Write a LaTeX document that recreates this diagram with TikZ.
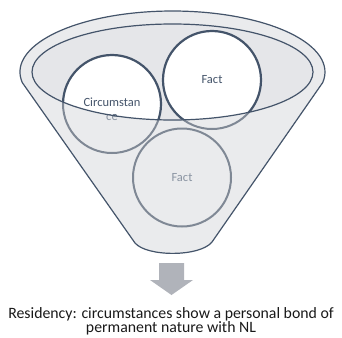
\documentclass[tikz,border=0pt]{standalone}
\usepackage{fontspec}
\setmainfont{Carlito}
\definecolor{navy}{HTML}{44546A}
\definecolor{graystroke}{HTML}{7F8895}
\definecolor{graytext}{HTML}{8A94A2}
\definecolor{funnelfill}{HTML}{EAEBED}
\definecolor{innerfill}{HTML}{E5E6E9}
\definecolor{arrowgray}{HTML}{B0B3BA}
\tikzset{
  funnelline/.style={draw=navy, line width=1.2pt},
  bubble/.style={circle, minimum size=98pt, inner sep=0pt, line width=2.2pt, draw=navy, fill=white, text=navy, font=\fontsize{12.5}{14.5}\selectfont, align=center},
  bubblegray/.style={circle, minimum size=98pt, inner sep=0pt, line width=2pt, draw=graystroke, text=graytext, font=\fontsize{12.5}{14.5}\selectfont, align=center},
  caption/.style={font=\fontsize{15.8}{14.5}\selectfont, align=center, text=black!90, inner sep=0pt}
}
\def\funnelpath{(22.3,82.6) arc[start angle=170, end angle=370, x radius=152.5, y radius=61] -- (212,242) .. controls (200,257) and (147,257) .. (135,243) -- cycle}
\begin{document}
\begin{tikzpicture}[x=1pt,y=-1pt]
\useasboundingbox (0,0) rectangle (342,337);
% funnel body
\path[fill=funnelfill] \funnelpath;
\path[fill=innerfill] (172.5,72) ellipse[x radius=140.5, y radius=48];
% circles
\node[bubble] (c1) at (112,104) {\vphantom{C}\\[-4pt]Circumstan\\ce};
\node[bubble] (c2) at (212,80) {Fact};
\node[bubble] (c3) at (182,177.5) {Fact};
% lower body overlay
\begin{scope}[even odd rule]
  \clip \funnelpath (172.5,72) ellipse[x radius=140.5, y radius=48];
  \path[fill=funnelfill] \funnelpath;
  \node[bubblegray] (g1) at (112,104) {\vphantom{C}\\[-4pt]Circumstan\\ce};
  \node[bubblegray] (g2) at (212,80) {Fact};
  \node[bubblegray] (g3) at (182,177.5) {Fact};
\end{scope}
% outlines
\path[funnelline] \funnelpath;
\path[funnelline] (172.5,72) ellipse[x radius=140.5, y radius=48];
% arrow
\path[fill=arrowgray] (159,263) -- (184,263) -- (184,280) -- (193,280) -- (171.5,295) -- (150,280) -- (159,280) -- cycle;
\node[caption, anchor=base] (cap) at (171,332.8) {Residency: circumstances show a personal bond of\\permanent nature with NL};
\end{tikzpicture}
\end{document}
